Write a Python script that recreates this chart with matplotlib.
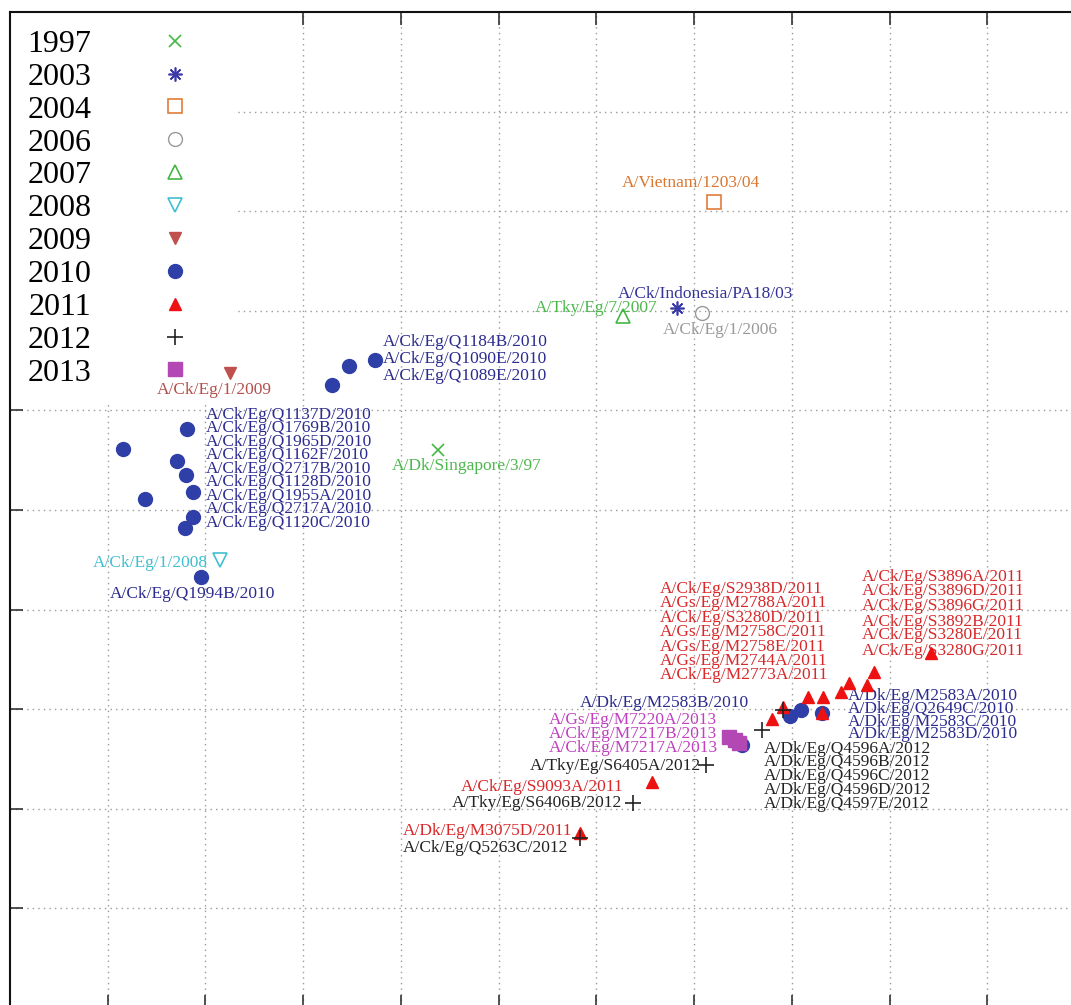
import matplotlib
matplotlib.use('Agg')
import matplotlib.pyplot as plt

# ---------------- data (map units; 1 unit = 1 grid cell) ----------------
years = ['1997', '2003', '2004', '2006', '2007', '2008', '2009', '2010', '2011', '2012', '2013']

x_1997 = [4.38]; y_1997 = [5.60]
x_2003 = [6.82]; y_2003 = [7.03]
x_2004 = [7.20]; y_2004 = [8.09]
x_2006 = [7.08]; y_2006 = [6.98]
x_2007 = [6.27]; y_2007 = [6.95]
x_2008 = [2.15]; y_2008 = [4.50]
x_2009 = [2.25]; y_2009 = [6.38]
x_2010 = [1.16, 1.38, 1.71, 1.80, 1.81, 1.87, 1.87, 1.79, 1.95,
          3.29, 3.47, 3.73, 7.49, 7.98, 8.09, 8.31]
y_2010 = [5.61, 5.11, 5.49, 5.35, 5.81, 5.18, 4.93, 4.82, 4.33,
          6.26, 6.45, 6.51, 2.64, 2.93, 2.99, 2.96]
x_2011 = [5.83, 6.57, 7.80, 7.91, 8.17, 8.32, 8.50, 8.59, 8.77, 8.84, 9.42, 8.31]
y_2011 = [1.76, 2.27, 2.90, 3.02, 3.12, 3.12, 3.17, 3.26, 3.24, 3.37, 3.56, 2.96]
x_2012 = [7.12, 6.37, 5.83, 7.69, 7.91]
y_2012 = [2.44, 2.06, 1.71, 2.79, 2.99]
x_2013 = [7.36, 7.42, 7.46]
y_2013 = [2.72, 2.69, 2.66]

# strain labels: text, left x, centre y
lab_1997 = ['A/Dk/Singapore/3/97']; lab_1997_x = [3.91]; lab_1997_y = [5.44]
lab_2003 = ['A/Ck/Indonesia/PA18/03']; lab_2003_x = [6.22]; lab_2003_y = [7.17]
lab_2004 = ['A/Vietnam/1203/04']; lab_2004_x = [6.26]; lab_2004_y = [8.28]
lab_2006 = ['A/Ck/Eg/1/2006']; lab_2006_x = [6.68]; lab_2006_y = [6.81]
lab_2007 = ['A/Tky/Eg/7/2007']; lab_2007_x = [5.37]; lab_2007_y = [7.03]
lab_2008 = ['A/Ck/Eg/1/2008']; lab_2008_x = [0.85]; lab_2008_y = [4.47]
lab_2009 = ['A/Ck/Eg/1/2009']; lab_2009_x = [1.50]; lab_2009_y = [6.20]

lab_2010 = ['A/Ck/Eg/Q1137D/2010', 'A/Ck/Eg/Q1769B/2010', 'A/Ck/Eg/Q1965D/2010',
            'A/Ck/Eg/Q1162F/2010', 'A/Ck/Eg/Q2717B/2010', 'A/Ck/Eg/Q1128D/2010',
            'A/Ck/Eg/Q1955A/2010', 'A/Ck/Eg/Q2717A/2010', 'A/Ck/Eg/Q1120C/2010',
            'A/Ck/Eg/Q1994B/2010',
            'A/Ck/Eg/Q1184B/2010', 'A/Ck/Eg/Q1090E/2010', 'A/Ck/Eg/Q1089E/2010',
            'A/Dk/Eg/M2583B/2010',
            'A/Dk/Eg/M2583A/2010', 'A/Dk/Eg/Q2649C/2010', 'A/Dk/Eg/M2583C/2010',
            'A/Dk/Eg/M2583D/2010']
lab_2010_x = [2.00] * 9 + [1.02] + [3.81] * 3 + [5.83] + [8.57] * 4
lab_2010_y = [5.95, 5.82, 5.68, 5.55, 5.41, 5.28, 5.14, 5.01, 4.87,
              4.16, 6.69, 6.52, 6.35, 3.06, 3.13, 3.00, 2.87, 2.75]

lab_2011 = ['A/Ck/Eg/S2938D/2011', 'A/Gs/Eg/M2788A/2011', 'A/Ck/Eg/S3280D/2011',
            'A/Gs/Eg/M2758C/2011', 'A/Gs/Eg/M2758E/2011', 'A/Gs/Eg/M2744A/2011',
            'A/Ck/Eg/M2773A/2011',
            'A/Ck/Eg/S3896A/2011', 'A/Ck/Eg/S3896D/2011', 'A/Ck/Eg/S3896G/2011',
            'A/Ck/Eg/S3892B/2011', 'A/Ck/Eg/S3280E/2011', 'A/Ck/Eg/S3280G/2011',
            'A/Ck/Eg/S9093A/2011', 'A/Dk/Eg/M3075D/2011']
lab_2011_x = [6.65] * 7 + [8.72] * 6 + [4.61, 4.02]
lab_2011_y = [4.21, 4.07, 3.92, 3.78, 3.62, 3.48, 3.34,
              4.33, 4.19, 4.04, 3.88, 3.74, 3.58, 2.22, 1.78]

lab_2012 = ['A/Tky/Eg/S6405A/2012', 'A/Tky/Eg/S6406B/2012', 'A/Ck/Eg/Q5263C/2012',
            'A/Dk/Eg/Q4596A/2012', 'A/Dk/Eg/Q4596B/2012', 'A/Dk/Eg/Q4596C/2012',
            'A/Dk/Eg/Q4596D/2012', 'A/Dk/Eg/Q4597E/2012']
lab_2012_x = [5.32, 4.52, 4.02] + [7.71] * 5
lab_2012_y = [2.43, 2.06, 1.61, 2.60, 2.47, 2.33, 2.19, 2.05]

lab_2013 = ['A/Gs/Eg/M7220A/2013', 'A/Ck/Eg/M7217B/2013', 'A/Ck/Eg/M7217A/2013']
lab_2013_x = [5.51] * 3
lab_2013_y = [2.89, 2.75, 2.61]

# ---------------- styles ----------------
series = [
    (x_1997, y_1997, dict(marker='x', color='#44b844', ms=9, mew=1.2), lab_1997, lab_1997_x, lab_1997_y, '#4cb84c'),
    (x_2003, y_2003, dict(marker=(8, 2, 0), color='#3a3aa8', ms=10, mew=1.2), lab_2003, lab_2003_x, lab_2003_y, '#33339a'),
    (x_2004, y_2004, dict(marker='s', color='#e07b39', mfc='none', ms=10, mew=1.2), lab_2004, lab_2004_x, lab_2004_y, '#d9762f'),
    (x_2006, y_2006, dict(marker='o', color='#999999', mfc='none', ms=10, mew=1.0), lab_2006, lab_2006_x, lab_2006_y, '#9a9a9a'),
    (x_2007, y_2007, dict(marker='^', color='#44b844', mfc='none', ms=10, mew=1.2), lab_2007, lab_2007_x, lab_2007_y, '#4cb84c'),
    (x_2008, y_2008, dict(marker='v', color='#40bfd0', mfc='none', ms=10, mew=1.2), lab_2008, lab_2008_x, lab_2008_y, '#40bfd0'),
    (x_2009, y_2009, dict(marker='v', color='#c0504d', ms=8), lab_2009, lab_2009_x, lab_2009_y, '#b5504d'),
    (x_2010, y_2010, dict(marker='o', color='#2f3fa8', ms=10), lab_2010, lab_2010_x, lab_2010_y, '#2b2b90'),
    (x_2011, y_2011, dict(marker='^', color='#ee1111', ms=9), lab_2011, lab_2011_x, lab_2011_y, '#d8282a'),
    (x_2012, y_2012, dict(marker='+', color='#222222', ms=11, mew=1.2), lab_2012, lab_2012_x, lab_2012_y, '#222222'),
    (x_2013, y_2013, dict(marker='s', color='#b347b3', ms=10), lab_2013, lab_2013_x, lab_2013_y, '#c040c0'),
]

W, H = 1071, 1005
fig = plt.figure(figsize=(W / 100, H / 100), dpi=100)
left_px, right_px, top_px, bottom_px = 10, 1085, 12, 1008
ax = fig.add_axes([left_px / W, 1 - bottom_px / H, (right_px - left_px) / W, (bottom_px - top_px) / H])
ax.set_xlim(0, 11)
ax.set_ylim(0, 10)
ax.set_xticks(range(1, 11))
ax.set_yticks(range(1, 10))
ax.tick_params(direction='in', length=9.5, width=1.2, color='#333333',
               top=True, bottom=True, left=True, right=True,
               labelbottom=False, labelleft=False)
ax.grid(True, color='#9a9a9a', linestyle=(0, (1, 3)), linewidth=1.0)
for sp in ax.spines.values():
    sp.set_linewidth(1.5)
    sp.set_color('#111111')

label_font = dict(family=['Liberation Serif', 'DejaVu Serif'], size=12.5)
for (xs, ys, st, labs, lx, ly, lc), yr in zip(series, years):
    ax.plot(xs, ys, linestyle='none', label=yr, zorder=3, **st)
    for t, tx, ty in zip(labs, lx, ly):
        ax.text(tx, ty, t, color=lc, ha='left', va='center', zorder=2, fontdict=label_font)

leg = ax.legend(loc='upper left', bbox_to_anchor=(0, 1), borderaxespad=0,
                markerfirst=False, frameon=True, fancybox=False,
                prop=dict(family='Liberation Serif', size=23),
                handlelength=2.6, handletextpad=1.3, labelspacing=0.11,
                borderpad=0.55, numpoints=1)
leg.get_frame().set_edgecolor('none')
leg.get_frame().set_facecolor('white')
leg.get_frame().set_alpha(1.0)
leg.set_zorder(1.5)

fig.savefig('out.png', dpi=100)
